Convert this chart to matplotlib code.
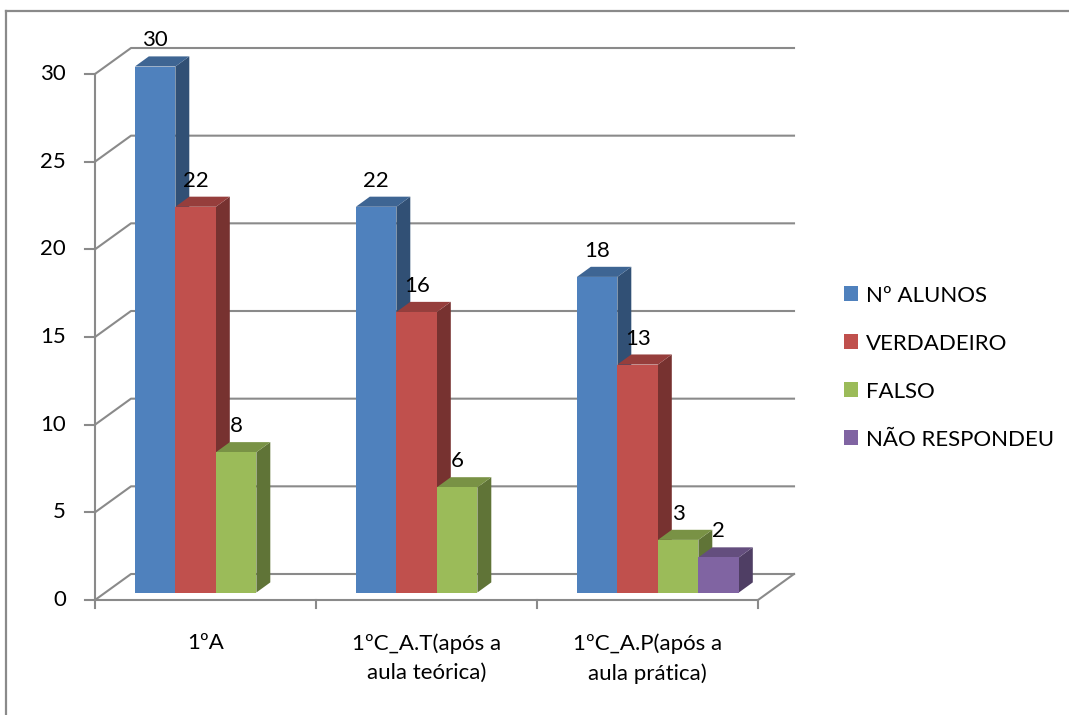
import matplotlib.pyplot as plt
import numpy as np
from matplotlib.patches import Polygon, Patch
from matplotlib.lines import Line2D
from matplotlib.colors import to_rgb

plt.rcParams['font.family'] = ['Lato', 'DejaVu Sans']
plt.rcParams['font.size'] = 16

categories = ['1ºA', '1ºC_A.T(após a\naula teórica)', '1ºC_A.P(após a\naula prática)']
series_names = ['Nº ALUNOS', 'VERDADEIRO', 'FALSO', 'NÃO RESPONDEU']
alunos = [30, 22, 18]
verdadeiro = [22, 16, 13]
falso = [8, 6, 3]
nao_respondeu = [np.nan, np.nan, 2]
yticks = [0, 5, 10, 15, 20, 25, 30]

colors = ['#4F81BD', '#C0504D', '#9BBB59', '#8064A2']
grid_color = '#8a8a8a'

W, H = 1069, 715
fig = plt.figure(figsize=(W / 100, H / 100), dpi=100)
ax = fig.add_axes([95 / W, 115 / H, 663 / W, 526 / H])
ax.set_xlim(0, len(categories))
ax.set_ylim(0, 30)
ax.axis('off')

# pixels per data unit, used to fake the 3d depth
sx = 663 / len(categories)
sy = 526 / 30


def shift(x, y, dx, dy):
    return x + dx / sx, y + dy / sy


depth = (36, 26)
f0 = (10.4, 7.5)   # bar front inside the depth
f1 = (24.3, 17.6)  # bar back

# back wall + side wall gridlines
for v in yticks:
    p1 = shift(0, v, *depth)
    p2 = shift(len(categories), v, *depth)
    ax.plot([0, p1[0], p2[0]], [v, p1[1], p2[1]], color=grid_color, lw=1.5,
            clip_on=False, zorder=1)

# floor front edge and right edge
pr = shift(len(categories), 0, *depth)
ax.plot([0, len(categories), pr[0]], [0, 0, pr[1]], color=grid_color, lw=1.5,
        clip_on=False, zorder=1)

# value axis
ax.plot([0, 0], [0, 30], color=grid_color, lw=1.5, clip_on=False, zorder=1)
for v in yticks:
    ax.plot([shift(0, v, -10, 0)[0], 0], [v, v], color=grid_color, lw=1.5,
            clip_on=False, zorder=1)
    ax.text(shift(0, v, -29, 0)[0], v, str(v), ha='right', va='center')

for i in range(len(categories) + 1):
    ax.plot([i, i], [0, shift(0, 0, 0, -8)[1]], color=grid_color, lw=1.5,
            clip_on=False, zorder=1)

for i, cat in enumerate(categories):
    ax.text(i + 0.5, shift(0, 0, 0, -33)[1], cat, ha='center', va='top',
            linespacing=1.6)

# bars
values = [alunos, verdadeiro, falso, nao_respondeu]
n = len(values)
bw = 40.5 / sx
z = 2
for i in range(len(categories)):
    for j, vals in enumerate(values):
        v = vals[i]
        if np.isnan(v):
            continue
        base = np.array(to_rgb(colors[j]))
        xl = i + 0.5 - n * bw / 2 + j * bw
        xr = xl + bw
        front = [shift(xl, 0, *f0), shift(xr, 0, *f0), shift(xr, v, *f0), shift(xl, v, *f0)]
        top = [shift(xl, v, *f0), shift(xr, v, *f0), shift(xr, v, *f1), shift(xl, v, *f1)]
        side = [shift(xr, 0, *f0), shift(xr, 0, *f1), shift(xr, v, *f1), shift(xr, v, *f0)]
        ax.add_patch(Polygon(side, closed=True, fc=base * 0.62, ec='none',
                             clip_on=False, zorder=z))
        ax.add_patch(Polygon(top, closed=True, fc=base * 0.78, ec='none',
                             clip_on=False, zorder=z))
        ax.add_patch(Polygon(front, closed=True, fc=base, ec='none',
                             clip_on=False, zorder=z))
        z += 1
        lx, ly = shift((xl + xr) / 2, v, *f0)
        ax.annotate(str(int(v)), xy=(lx, ly), xytext=(0, 26),
                    textcoords='offset pixels', ha='center', va='center',
                    annotation_clip=False, zorder=50)

handles = [Patch(facecolor=c, edgecolor='none') for c in colors]
fig.legend(handles, series_names, loc='center left',
           bbox_to_anchor=(844 / W, 1 - 367.5 / H), frameon=False,
           handlelength=0.63, handleheight=0.63, handletextpad=0.36,
           labelspacing=1.26, borderpad=0, borderaxespad=0)

# chart border (top and left only visible)
fig.add_artist(Line2D([6 / W, 6 / W], [0, 1 - 11 / H], transform=fig.transFigure,
                      color=grid_color, lw=1.6))
fig.add_artist(Line2D([6 / W, 1], [1 - 11 / H, 1 - 11 / H], transform=fig.transFigure,
                      color=grid_color, lw=1.6))

fig.savefig('out.png', dpi=100)
